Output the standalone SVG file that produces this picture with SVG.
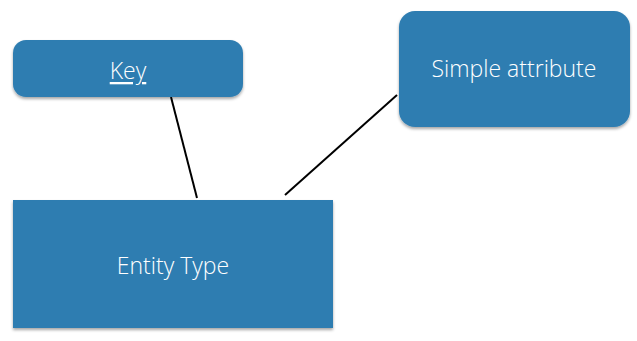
<svg xmlns="http://www.w3.org/2000/svg" width="637" height="341" viewBox="0 0 637 341">
<defs>
<filter id="sh" x="-10%" y="-10%" width="120%" height="130%">
<feDropShadow dx="0" dy="2" stdDeviation="1.5" flood-color="#000" flood-opacity="0.35"/>
</filter>
<style>
.box{fill:#2F7DB1;filter:url(#sh)}
.lbl{font-family:"Open Sans","Liberation Sans",sans-serif;font-weight:300;font-size:23px;fill:#fff;text-anchor:middle;dominant-baseline:central}
.conn{stroke:#000;stroke-width:2;fill:none}
</style>
</defs>
<rect width="637" height="341" fill="#fff"/>
<g id="connectors">
<line class="conn" x1="171" y1="97" x2="197" y2="198"/>
<line class="conn" x1="397" y1="95" x2="285" y2="195"/>
</g>
<g id="key">
<rect class="box" x="13" y="40" width="230" height="57" rx="13"/>
<text class="lbl" x="128" y="70" text-decoration="underline">Key</text>
</g>
<g id="simple-attribute">
<rect class="box" x="399" y="11" width="231" height="116" rx="16"/>
<text class="lbl" x="514" y="68">Simple attribute</text>
</g>
<g id="entity-type">
<rect class="box" x="13" y="200" width="320" height="128"/>
<text class="lbl" x="173" y="265">Entity Type</text>
</g>
</svg>
